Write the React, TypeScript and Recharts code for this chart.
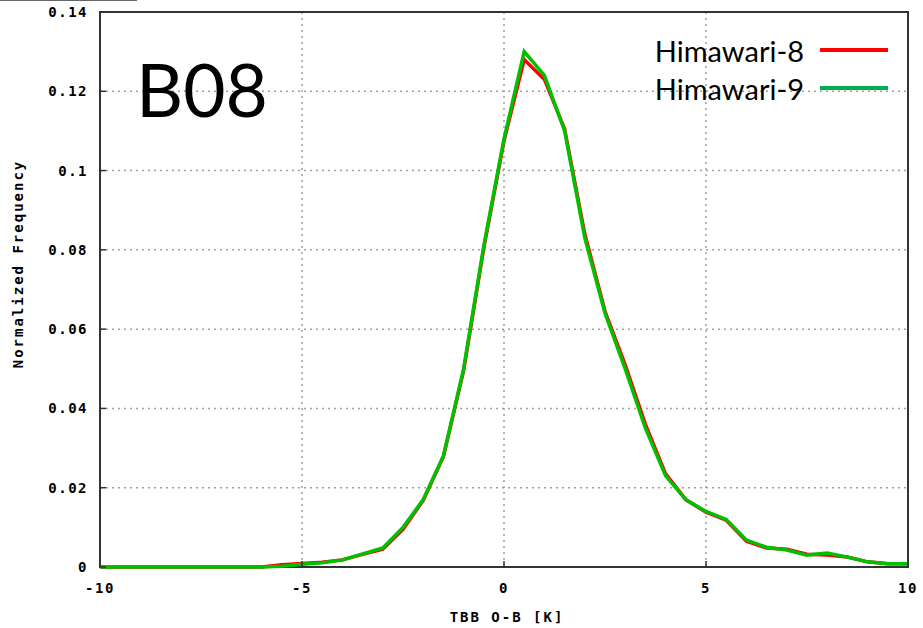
import React from 'react';
import { LineChart, Line, XAxis, YAxis, CartesianGrid, Legend, Label, ReferenceArea } from 'recharts';

// TBB O-B [K] bins
const tbb = [
  -10, -9.5, -9, -8.5, -8, -7.5, -7, -6.5, -6, -5.5, -5, -4.5, -4, -3.5, -3, -2.5, -2, -1.5, -1, -0.5,
  0, 0.5, 1, 1.5, 2, 2.5, 3, 3.5, 4, 4.5, 5, 5.5, 6, 6.5, 7, 7.5, 8, 8.5, 9, 9.5, 10,
];

const himawari8 = [
  0, 0, 0, 0, 0, 0, 0, 0, 0, 0.0006, 0.0009, 0.0012, 0.0018, 0.0032, 0.0045, 0.0095, 0.0168, 0.0278, 0.0495, 0.0805,
  0.1075, 0.128, 0.123, 0.1105, 0.084, 0.0645, 0.051, 0.036, 0.0235, 0.017, 0.0138, 0.0118, 0.0065, 0.0048, 0.0045, 0.0032, 0.003, 0.0025, 0.0013, 0.0008, 0.0008,
];

const himawari9 = [
  0, 0, 0, 0, 0, 0, 0, 0, 0, 0.0002, 0.0007, 0.0011, 0.0018, 0.0033, 0.0048, 0.0100, 0.0170, 0.0280, 0.0500, 0.0810,
  0.1080, 0.1300, 0.1240, 0.1100, 0.0830, 0.0640, 0.0500, 0.0350, 0.0230, 0.0170, 0.0140, 0.0120, 0.0068, 0.0050, 0.0043, 0.0030, 0.0035, 0.0025, 0.0013, 0.0008, 0.0008,
];

const xTicks = [-10, -5, 0, 5, 10];
const yTicks = [0, 0.02, 0.04, 0.06, 0.08, 0.1, 0.12, 0.14];
const seriesNames = ['Himawari-8', 'Himawari-9'];
const legendColors = ['#ff0000', '#00b050'];
const panelLabel = 'B08';
const xTitle = 'TBB O-B [K]';
const yTitle = 'Normalized Frequency';

const data = tbb.map((x, i) => ({ x, h8: himawari8[i], h9: himawari9[i] }));

const monoFont = {
  fontFamily: '"DejaVu Sans Mono", monospace',
  fontWeight: 700,
  fontSize: 14,
  fill: '#000',
  letterSpacing: 1.5,
};

const TICK_LEN = 6;
const TICK_STROKE = '#333';

const fmtY = (v: number) => String(Number(v.toFixed(2)));

const BottomTick = (p: any) => {
  const { x, y, payload } = p;
  return (
    <g>
      <line x1={x} y1={y} x2={x} y2={y - TICK_LEN} stroke={TICK_STROKE} strokeWidth={1.5} />
      <text x={x} y={y + 26} textAnchor="middle" style={monoFont}>
        {String(payload.value)}
      </text>
    </g>
  );
};

const TopTick = (p: any) => {
  const { x, y } = p;
  return <line x1={x} y1={y} x2={x} y2={y + TICK_LEN} stroke={TICK_STROKE} strokeWidth={1.5} />;
};

const LeftTick = (p: any) => {
  const { x, y, payload } = p;
  return (
    <g>
      <line x1={x} y1={y} x2={x + TICK_LEN} y2={y} stroke={TICK_STROKE} strokeWidth={1.5} />
      <text x={x - 12} y={y} dy="0.36em" textAnchor="end" style={monoFont}>
        {fmtY(payload.value)}
      </text>
    </g>
  );
};

const RightTick = (p: any) => {
  const { x, y } = p;
  return <line x1={x} y1={y} x2={x - TICK_LEN} y2={y} stroke={TICK_STROKE} strokeWidth={1.5} />;
};

const renderLegend = (props: any) => {
  const payload = props.payload || [];
  return (
    <div style={{ fontFamily: 'Lato, "Open Sans", sans-serif', fontSize: 29, color: '#000' }}>
      {payload.map((e: any, i: number) => (
        <div
          key={i}
          style={{ display: 'flex', alignItems: 'center', justifyContent: 'flex-end', height: 38 }}
        >
          <span>{e.value}</span>
          <span
            style={{
              display: 'inline-block',
              width: 68,
              height: 4,
              background: legendColors[seriesNames.indexOf(e.value)] || e.color,
              marginLeft: 16,
            }}
          />
        </div>
      ))}
    </div>
  );
};

export default function App() {
  return (
    <div style={{ position: 'absolute', left: 0, top: 0, width: 923, height: 628, background: '#fff' }}>
      <div style={{ position: 'absolute', left: 0, top: 0, width: 137, height: 1, background: '#666' }} />
      <LineChart
        width={923}
        height={628}
        data={data}
        margin={{ top: 12, right: 15, left: 0, bottom: 0 }}
      >
        <CartesianGrid stroke="#a0a0a0" strokeDasharray="2 4" strokeWidth={1.5} />
        <XAxis
          dataKey="x"
          type="number"
          domain={[-10, 10]}
          ticks={xTicks}
          height={61}
          tickSize={0}
          tickMargin={0}
          tick={BottomTick}
          axisLine={false}
          tickLine={false}
          interval={0}
        >
          <Label
            content={(p: any) => {
              const vb = p.viewBox || { x: 100, y: 567, width: 808, height: 61 };
              return (
                <text
                  x={vb.x + vb.width / 2 + 3}
                  y={622}
                  textAnchor="middle"
                  style={{ ...monoFont, fontSize: 14, letterSpacing: 2 }}
                >
                  {xTitle}
                </text>
              );
            }}
          />
        </XAxis>
        <XAxis
          xAxisId="top"
          dataKey="x"
          type="number"
          orientation="top"
          domain={[-10, 10]}
          ticks={xTicks}
          height={0}
          tickSize={0}
          tickMargin={0}
          tick={TopTick}
          axisLine={false}
          tickLine={false}
          interval={0}
        />
        <YAxis
          type="number"
          domain={[0, 0.14]}
          ticks={yTicks}
          width={100}
          tickSize={0}
          tickMargin={0}
          tick={LeftTick}
          axisLine={false}
          tickLine={false}
          interval={0}
        >
          <Label
            content={() => {
              const cx = 18;
              const cy = 264;
              return (
                <text
                  x={cx}
                  y={cy}
                  textAnchor="middle"
                  dominantBaseline="central"
                  transform={`rotate(-90 ${cx} ${cy})`}
                  style={{ ...monoFont, fontSize: 14, letterSpacing: 2 }}
                >
                  {yTitle}
                </text>
              );
            }}
          />
        </YAxis>
        <YAxis
          yAxisId="right"
          type="number"
          orientation="right"
          domain={[0, 0.14]}
          ticks={yTicks}
          width={0}
          tickSize={0}
          tickMargin={0}
          tick={RightTick}
          axisLine={false}
          tickLine={false}
          interval={0}
        />
        <ReferenceArea
          x1={-10}
          x2={10}
          y1={0}
          y2={0.14}
          fill="none"
          fillOpacity={0}
          stroke="#333"
          strokeWidth={2}
          ifOverflow="visible"
        />
        <Line
          type="linear"
          dataKey="h8"
          name={seriesNames[0]}
          stroke="#ff0000"
          strokeWidth={3.5}
          dot={false}
          isAnimationActive={false}
        />
        <Line
          type="linear"
          dataKey="h9"
          name={seriesNames[1]}
          stroke="#00c000"
          strokeWidth={3.5}
          dot={false}
          isAnimationActive={false}
        />
        <Legend
          layout="vertical"
          align="center"
          verticalAlign="middle"
          content={renderLegend}
          wrapperStyle={{ position: 'absolute', left: 600, top: 31, width: 288 }}
        />
      </LineChart>
      <svg
        width={923}
        height={628}
        style={{ position: 'absolute', left: 0, top: 0, pointerEvents: 'none' }}
      >
        <text
          x={136}
          y={117}
          style={{ fontFamily: 'Lato, "Open Sans", sans-serif', fontSize: 73, fill: '#000' }}
        >
          {panelLabel}
        </text>
      </svg>
    </div>
  );
}
